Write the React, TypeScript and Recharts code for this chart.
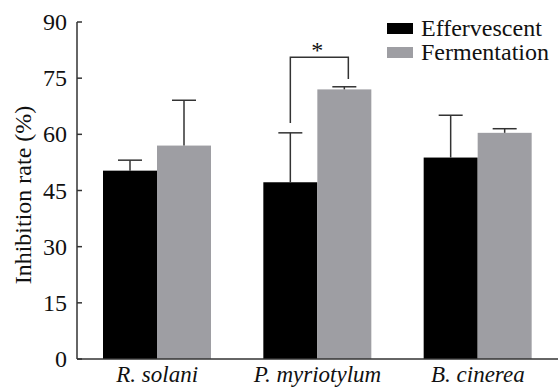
import React from "react";
import { Bar, BarChart, XAxis, YAxis, Legend } from "recharts";

const categories = ["R. solani", "P. myriotylum", "B. cinerea"];
const effervescent = [50.3, 47.2, 53.8];
const effervescentErr = [2.8, 13.2, 11.3];
const fermentation = [57.0, 72.0, 60.4];
const fermentationErr = [12.1, 0.7, 1.1];
const yTicks = [0, 15, 30, 45, 60, 75, 90];

// significance bracket over P. myriotylum
const sigCategory = "P. myriotylum";
const sigTop = 80.6;
const sigLeftEnd = 63.0;
const sigRightEnd = 74.8;
const sigLabel = "*";

const data = categories.map((name, i) => ({
  name,
  effervescent: effervescent[i],
  effervescentErr: effervescentErr[i],
  fermentation: fermentation[i],
  fermentationErr: fermentationErr[i],
}));

const FONT = "Liberation Serif, serif";
const INK = "#333";
const GRAY = "#9e9ea3";

function barWithError(fill: string, errKey: string, withSig: boolean) {
  return (props: any) => {
    const { x, y, width, height, payload, value } = props;
    const v = Array.isArray(value) ? value[1] - value[0] : value;
    const pxPerUnit = v ? height / v : 0;
    const base = y + height;
    const err = payload[errKey] || 0;
    const cx = x + width / 2;
    const errY = y - err * pxPerUnit;
    const cap = 12;
    const yOf = (val: number) => base - val * pxPerUnit;
    return (
      <g>
        <rect x={x} y={y} width={width} height={height} fill={fill} />
        <line x1={cx} x2={cx} y1={y} y2={errY} stroke={INK} strokeWidth={1.5} />
        <line x1={cx - cap} x2={cx + cap} y1={errY} y2={errY} stroke={INK} strokeWidth={1.5} />
        {withSig && payload.name === sigCategory && (
          <g>
            <polyline
              points={`${x - width / 2},${yOf(sigLeftEnd)} ${x - width / 2},${yOf(sigTop)} ${cx + 4},${yOf(sigTop)} ${cx + 4},${yOf(sigRightEnd)}`}
              fill="none"
              stroke={INK}
              strokeWidth={1.5}
            />
            <text
              x={(x - width / 2 + cx) / 2}
              y={yOf(sigTop) + 1}
              textAnchor="middle"
              fontFamily={FONT}
              fontSize={24}
              fill="#111"
            >
              {sigLabel}
            </text>
          </g>
        )}
      </g>
    );
  };
}

function YTick(props: any) {
  const { x, y, payload } = props;
  return (
    <g>
      <line x1={x + 10} x2={x + 15} y1={y} y2={y} stroke={INK} strokeWidth={1.5} />
      <text
        x={x}
        y={y}
        textAnchor="end"
        dominantBaseline="central"
        fontFamily={FONT}
        fontSize={24}
        fill="#111"
      >
        {payload.value}
      </text>
    </g>
  );
}

function LegendBox() {
  const items = [
    { label: "Effervescent", color: "#000" },
    { label: "Fermentation", color: GRAY },
  ];
  return (
    <div style={{ fontFamily: FONT, fontSize: 24, color: "#111", lineHeight: "24px" }}>
      {items.map((it) => (
        <div key={it.label} style={{ display: "flex", alignItems: "center", whiteSpace: "nowrap" }}>
          <span
            style={{ display: "inline-block", width: 26, height: 11, background: it.color, marginRight: 8 }}
          />
          {it.label}
        </div>
      ))}
    </div>
  );
}

export default function App() {
  return (
    <div style={{ position: "absolute", left: 0, top: 0, background: "#fff" }}>
      <BarChart
        width={558}
        height={387}
        data={data}
        margin={{ top: 22, right: 0, bottom: 0, left: 0 }}
        barCategoryGap={26}
        barGap={0}
      >
        <XAxis
          dataKey="name"
          height={28}
          tickLine={false}
          tickSize={0}
          tickMargin={7}
          stroke={INK}
          strokeWidth={1.5}
          tick={{ fontFamily: FONT, fontSize: 23, fontStyle: "italic", fill: "#111" }}
        />
        <YAxis
          width={77}
          domain={[0, 90]}
          ticks={yTicks}
          interval={0}
          tickLine={false}
          tickSize={0}
          tickMargin={10}
          stroke={INK}
          strokeWidth={1.5}
          tick={<YTick />}
          label={{
            content: () => (
              <text
                transform="translate(23,195) rotate(-90)"
                textAnchor="middle"
                dominantBaseline="central"
                fontFamily={FONT}
                fontSize={24}
                fill="#111"
              >
                Inhibition rate (%)
              </text>
            ),
          }}
        />
        <Legend
          layout="vertical"
          verticalAlign="middle"
          align="center"
          content={<LegendBox />}
          wrapperStyle={{ position: "absolute", left: 387, top: 16, width: 171 }}
        />
        <Bar
          dataKey="effervescent"
          isAnimationActive={false}
          shape={barWithError("#000", "effervescentErr", false)}
        />
        <Bar
          dataKey="fermentation"
          isAnimationActive={false}
          shape={barWithError(GRAY, "fermentationErr", true)}
        />
      </BarChart>
    </div>
  );
}
